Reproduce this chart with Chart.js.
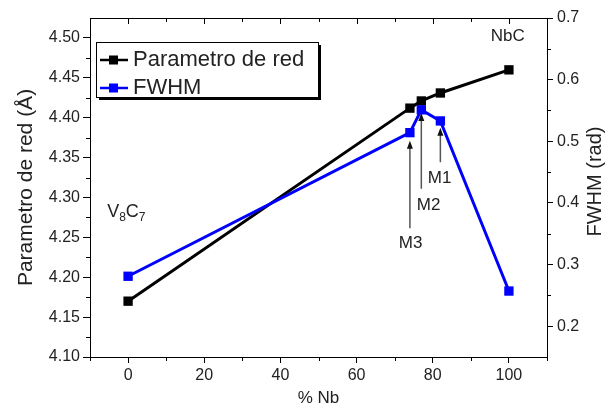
<!DOCTYPE html>
<html>
<head>
<meta charset="utf-8">
<script src="https://cdn.jsdelivr.net/npm/chart.js@4.4.1/dist/chart.umd.min.js"></script>
<style>
html, body { margin: 0; padding: 0; background: #fff; }
#wrap { width: 614px; height: 411px; }
</style>
</head>
<body>
<div id="wrap"><canvas id="chart"></canvas></div>
<script>
// data
const nbPercent = [0, 74, 77, 82, 100];
const latticeParam = [4.170, 4.412, 4.421, 4.431, 4.460];
const fwhm = [0.281, 0.514, 0.551, 0.533, 0.257];

// axis ticks
const xTicks = [0, 20, 40, 60, 80, 100];
const xMinor = [-10, 10, 30, 50, 70, 90, 110];
const leftTicks = [4.10, 4.15, 4.20, 4.25, 4.30, 4.35, 4.40, 4.45, 4.50];
const leftMinor = [4.125, 4.175, 4.225, 4.275, 4.325, 4.375, 4.425, 4.475];
const rightTicks = [0.2, 0.3, 0.4, 0.5, 0.6, 0.7];
const rightMinor = [0.25, 0.35, 0.45, 0.55, 0.65];

// sample arrows (x in % Nb, y in FWHM units)
const markLabels = ['M1', 'M2', 'M3'];
const markX = [82, 77, 74];
const markTip = [0.522, 0.546, 0.501];
const markBase = [0.466, 0.423, 0.359];
const markTextX = [81.8, 78.9, 74.2];
const markTextY = [0.440, 0.396, 0.334];

const FONT = '"Liberation Sans", Arial, Helvetica, sans-serif';
const TXT = '#222';

const extras = {
    id: 'extras',
    afterDraw(chart) {
        const { ctx, chartArea: a, scales } = chart;
        const x = scales.x, y = scales.y, y1 = scales.y1;
        ctx.save();
        ctx.strokeStyle = '#000';
        ctx.lineWidth = 1;

        // top frame line + inward ticks
        ctx.beginPath();
        ctx.moveTo(a.left, a.top + 0.5);
        ctx.lineTo(a.right, a.top + 0.5);
        xTicks.forEach(v => {
            const px = Math.round(x.getPixelForValue(v)) + 0.5;
            ctx.moveTo(px, a.top); ctx.lineTo(px, a.top + 6);
        });
        xMinor.forEach(v => {
            const px = Math.round(x.getPixelForValue(v)) + 0.5;
            ctx.moveTo(px, a.top); ctx.lineTo(px, a.top + 4);
        });
        // minor ticks outside
        xMinor.forEach(v => {
            const px = Math.round(x.getPixelForValue(v)) + 0.5;
            ctx.moveTo(px, a.bottom); ctx.lineTo(px, a.bottom + 4);
        });
        leftMinor.forEach(v => {
            const py = Math.round(y.getPixelForValue(v)) + 0.5;
            ctx.moveTo(a.left, py); ctx.lineTo(a.left - 4, py);
        });
        rightMinor.forEach(v => {
            const py = Math.round(y1.getPixelForValue(v)) + 0.5;
            ctx.moveTo(a.right, py); ctx.lineTo(a.right + 4, py);
        });
        ctx.stroke();

        // right axis title, reading bottom to top
        ctx.fillStyle = TXT;
        ctx.font = '20px ' + FONT;
        ctx.textAlign = 'center';
        ctx.textBaseline = 'middle';
        ctx.save();
        ctx.translate(595, (a.top + a.bottom) / 2 - 6);
        ctx.rotate(-Math.PI / 2);
        ctx.fillText('FWHM (rad)', 0, 0);
        ctx.restore();

        // sample arrows
        markLabels.forEach((lab, i) => {
            const px = x.getPixelForValue(markX[i]);
            const tip = y1.getPixelForValue(markTip[i]);
            const base = y1.getPixelForValue(markBase[i]);
            ctx.strokeStyle = '#555';
            ctx.lineWidth = 1.5;
            ctx.beginPath();
            ctx.moveTo(px, base);
            ctx.lineTo(px, tip + 5);
            ctx.stroke();
            ctx.fillStyle = '#111';
            ctx.beginPath();
            ctx.moveTo(px, tip);
            ctx.lineTo(px - 3, tip + 8);
            ctx.lineTo(px + 3, tip + 8);
            ctx.closePath();
            ctx.fill();
            ctx.fillStyle = TXT;
            ctx.font = '17px ' + FONT;
            ctx.textAlign = 'center';
            ctx.textBaseline = 'middle';
            ctx.fillText(lab, x.getPixelForValue(markTextX[i]), y1.getPixelForValue(markTextY[i]));
        });

        // phase labels
        ctx.fillStyle = TXT;
        ctx.font = '17px ' + FONT;
        ctx.textAlign = 'center';
        ctx.textBaseline = 'middle';
        ctx.fillText('NbC', x.getPixelForValue(99.7), y.getPixelForValue(4.502));
        ctx.textAlign = 'left';
        ctx.textBaseline = 'alphabetic';
        let vx = x.getPixelForValue(-5.5);
        const vy = y.getPixelForValue(4.276);
        const parts = [['V', false], ['8', true], ['C', false], ['7', true]];
        parts.forEach(([t, sub]) => {
            ctx.font = (sub ? '12px ' : '18px ') + FONT;
            ctx.fillText(t, vx, vy + (sub ? 4 : 0));
            vx += ctx.measureText(t).width;
        });

        // legend with shadow
        const lx = 96, ly = 42, lw = 222, lh = 55;
        ctx.fillStyle = '#000';
        ctx.fillRect(lx + 3, ly + 3, lw, lh);
        ctx.fillStyle = '#fff';
        ctx.fillRect(lx, ly, lw, lh);
        ctx.strokeStyle = '#000';
        ctx.lineWidth = 1;
        ctx.strokeRect(lx + 0.5, ly + 0.5, lw, lh);
        const entries = [chart.data.datasets[1], chart.data.datasets[0]];
        entries.forEach((ds, i) => {
            const ey = ly + 18 + i * 28;
            ctx.strokeStyle = ds.borderColor;
            ctx.lineWidth = 2.5;
            ctx.beginPath();
            ctx.moveTo(lx + 4, ey);
            ctx.lineTo(lx + 32, ey);
            ctx.stroke();
            ctx.fillStyle = ds.borderColor;
            ctx.fillRect(lx + 13, ey - 4.5, 9, 9);
            ctx.fillStyle = TXT;
            ctx.font = '22px ' + FONT;
            ctx.textAlign = 'left';
            ctx.textBaseline = 'middle';
            ctx.fillText(ds.label, lx + 37, ey);
        });
        ctx.restore();
    }
};

new Chart(document.getElementById('chart'), {
    type: 'line',
    data: {
        datasets: [
            {
                label: 'FWHM',
                data: nbPercent.map((v, i) => ({ x: v, y: fwhm[i] })),
                yAxisID: 'y1',
                borderColor: '#0000ff',
                backgroundColor: '#0000ff',
                borderWidth: 3,
                pointStyle: 'rect',
                pointRadius: 6.6,
                pointBorderWidth: 0,
                order: 0
            },
            {
                label: 'Parametro de red',
                data: nbPercent.map((v, i) => ({ x: v, y: latticeParam[i] })),
                yAxisID: 'y',
                borderColor: '#000000',
                backgroundColor: '#000000',
                borderWidth: 3,
                pointStyle: 'rect',
                pointRadius: 6.6,
                pointBorderWidth: 0,
                order: 1
            }
        ]
    },
    options: {
        responsive: true,
        maintainAspectRatio: false,
        animation: false,
        layout: { padding: { top: 18, left: 0, right: 0, bottom: 0 } },
        plugins: {
            legend: { display: false },
            tooltip: { enabled: false }
        },
        scales: {
            x: {
                type: 'linear',
                min: -10,
                max: 110,
                afterBuildTicks: s => { s.ticks = xTicks.map(v => ({ value: v })); },
                afterFit: s => { s.height = 54; },
                ticks: { autoSkip: false, maxRotation: 0, padding: 3, color: TXT, font: { family: FONT, size: 16 } },
                grid: { drawOnChartArea: false, tickLength: 6, color: '#000' },
                border: { color: '#000', width: 1 },
                title: { display: true, text: '% Nb', color: TXT, font: { family: FONT, size: 17 }, padding: { top: 0, bottom: 2 } }
            },
            y: {
                position: 'left',
                min: 4.10,
                max: 4.525,
                afterBuildTicks: s => { s.ticks = leftTicks.map(v => ({ value: v })); },
                afterFit: s => { s.width = 90; },
                ticks: { autoSkip: false, padding: 3, color: TXT, font: { family: FONT, size: 16 }, callback: v => v.toFixed(2) },
                grid: { drawOnChartArea: false, tickLength: 7, color: '#000' },
                border: { color: '#000', width: 1 },
                title: { display: true, text: 'Parametro de red (Å)', color: TXT, font: { family: FONT, size: 21 }, padding: { top: 14, bottom: 0 } }
            },
            y1: {
                position: 'right',
                min: 0.15,
                max: 0.7,
                afterBuildTicks: s => { s.ticks = rightTicks.map(v => ({ value: v })); },
                afterFit: s => { s.width = 67; },
                ticks: { autoSkip: false, padding: 4, color: TXT, font: { family: FONT, size: 16 }, callback: v => v.toFixed(1) },
                grid: { drawOnChartArea: false, tickLength: 6, color: '#000' },
                border: { color: '#000', width: 1 }
            }
        }
    },
    plugins: [extras]
});
</script>
</body>
</html>
